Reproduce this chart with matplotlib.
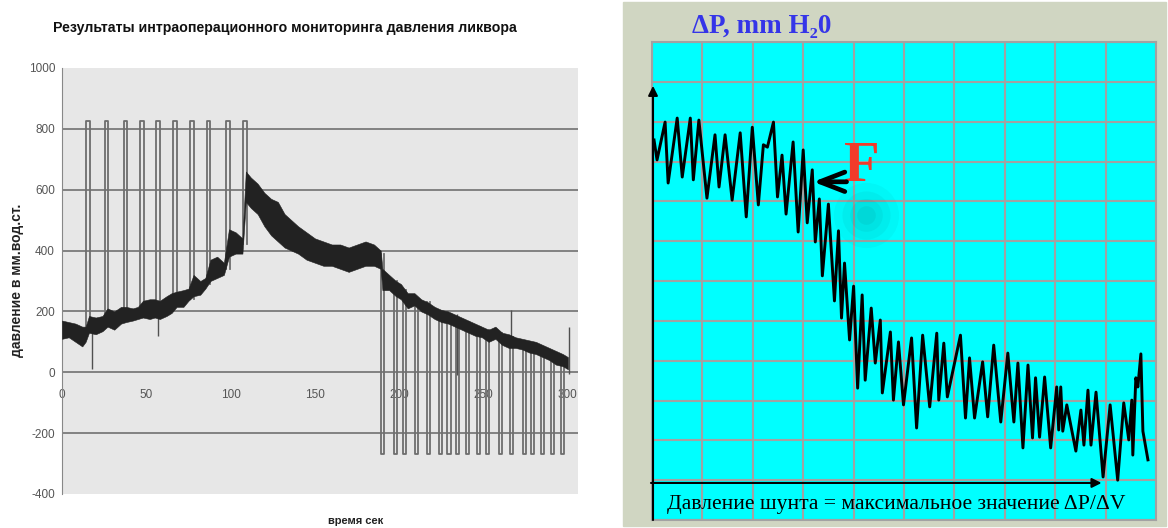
import numpy as np
import matplotlib.pyplot as plt
from matplotlib.patches import Rectangle

plt.rcParams["axes.unicode_minus"] = False

# ---------------- left panel: intraoperative CSF pressure recording ----------------
TITLE_L = "Результаты интраоперационного мониторинга давления ликвора"
XLABEL_L = "время сек"
YLABEL_L = "давление в мм.вод.ст."
x_ticks = [0, 50, 100, 150, 200, 250, 300]
y_ticks = [-400, -200, 0, 200, 400, 600, 800, 1000]
grid_levels = [-200, 0, 200, 400, 600, 800]

# noisy baseline, read as lower / upper envelope
band_t = [0, 4, 8, 12, 14, 16, 20, 24, 27, 31, 35, 38, 42, 45, 48, 52, 55, 58, 62, 65,
          68, 72, 75, 78, 82, 85, 88, 92, 96, 99, 103, 107, 109, 112, 116, 120, 124, 128,
          132, 136, 140, 145, 150, 155, 160, 165, 170, 175, 180, 185, 189, 190, 194, 198,
          201, 205, 209, 213, 217, 221, 225, 229, 233, 237, 241, 245, 249, 253, 257, 261,
          265, 269, 273, 277, 281, 285, 289, 293, 297, 300]
band_lo = [110, 115, 100, 85, 100, 130, 125, 135, 150, 140, 160, 165, 170, 175, 180, 175,
           180, 175, 185, 195, 215, 215, 235, 250, 255, 275, 300, 310, 320, 380, 390, 390,
           560, 540, 520, 480, 450, 430, 410, 400, 390, 370, 360, 350, 350, 340, 330, 340,
           350, 350, 340, 270, 270, 250, 240, 210, 220, 200, 190, 175, 165, 160, 150, 140,
           130, 120, 115, 100, 110, 90, 80, 80, 75, 65, 60, 50, 40, 25, 20, 10]
band_hi = [170, 165, 160, 150, 150, 185, 180, 185, 210, 200, 215, 215, 210, 215, 235, 240,
           240, 235, 250, 260, 265, 270, 275, 320, 300, 310, 370, 380, 360, 470, 460, 440,
           660, 640, 620, 590, 570, 560, 520, 500, 480, 460, 440, 430, 420, 420, 410, 420,
           430, 420, 400, 340, 320, 300, 290, 260, 260, 240, 230, 215, 205, 200, 190, 180,
           170, 160, 150, 140, 150, 130, 125, 115, 110, 105, 100, 90, 80, 70, 60, 50]

# infusion pulses (up) and withdrawal pulses (down)
up_pulse_t = [14.5, 25.5, 36.5, 46.5, 56, 66, 76, 86, 97.5, 107.5]
up_pulse_base = [140, 160, 180, 195, 215, 220, 240, 290, 340, 420]
up_pulse_top = 825
down_pulse_t = [189.4, 196.6, 202.2, 209.4, 216.5, 223.7, 228.6, 233.5, 239.8, 245.9,
                251.6, 259.2, 265.9, 273.1, 278.2, 283.9, 289.8, 295.7]
down_pulse_base = [390, 300, 270, 240, 230, 200, 190, 180, 165, 150, 140, 130, 115, 100,
                   90, 80, 65, 50]
down_pulse_bottom = -268

# isolated artefact spikes
spike_t = [18, 57, 234, 266, 300.5]
spike_from = [150, 220, 190, 110, -5]
spike_to = [10, 120, -10, 205, 150]

# ---------------- right panel: schematic dP trace ----------------
TITLE_R = "ΔP, mm H₂0"
NOTE_R = "Давление шунта = максимальное значение ΔP/ΔV"
MARK_R = "F"
trace_x = [0.04, 0.10, 0.26, 0.32, 0.50, 0.60, 0.76, 0.82, 0.93, 1.09, 1.25, 1.33, 1.45,
           1.59, 1.75, 1.87, 1.99, 2.11, 2.21, 2.29, 2.41, 2.49, 2.58, 2.66, 2.80, 2.90,
           3.00, 3.08, 3.18, 3.24, 3.32, 3.38, 3.50, 3.62, 3.70, 3.76, 3.82, 3.92, 4.00,
           4.08, 4.17, 4.23, 4.35, 4.43, 4.53, 4.57, 4.73, 4.79, 4.89, 4.99, 5.15, 5.25,
           5.37, 5.51, 5.65, 5.69, 5.79, 5.86, 6.12, 6.22, 6.30, 6.40, 6.56, 6.66, 6.78,
           6.92, 7.06, 7.18, 7.26, 7.36, 7.46, 7.55, 7.61, 7.69, 7.79, 7.91, 8.03, 8.07,
           8.11, 8.15, 8.23, 8.41, 8.51, 8.57, 8.65, 8.71, 8.81, 8.95, 9.09, 9.24, 9.36,
           9.46, 9.52, 9.54, 9.60, 9.64, 9.70, 9.74, 9.84]
trace_y = [9.54, 9.04, 9.99, 8.46, 10.09, 8.61, 10.09, 8.54, 10.04, 8.08, 9.67, 8.36, 9.67,
           8.03, 9.72, 7.61, 9.86, 7.91, 9.42, 9.36, 9.99, 8.11, 9.16, 7.68, 9.49, 7.23,
           9.29, 7.46, 8.79, 6.98, 8.06, 6.13, 7.93, 5.50, 7.26, 5.07, 6.45, 4.52, 5.87,
           3.31, 5.65, 3.51, 5.32, 3.94, 5.02, 3.19, 4.72, 3.01, 4.47, 2.89, 4.57, 2.31,
           4.64, 2.84, 4.69, 3.01, 4.44, 3.09, 4.64, 2.56, 4.07, 2.56, 3.97, 2.59, 4.39,
           2.46, 4.19, 2.46, 3.94, 1.81, 3.89, 2.06, 3.57, 2.08, 3.59, 1.81, 3.34, 2.26,
           3.34, 2.23, 2.89, 1.73, 2.76, 1.88, 3.26, 1.88, 3.21, 1.08, 2.89, 1.00, 2.94,
           2.01, 3.01, 1.63, 3.57, 3.34, 4.17, 2.23, 1.51]


W, H = 1168, 528
fig = plt.figure(figsize=(W / 100, H / 100), dpi=100, facecolor="white")


def fx(px):
    return px / W


def fy(py):
    return 1 - py / H


# ---- left chart ----
ax1 = fig.add_axes([fx(62), fy(494), fx(578 - 62), (494 - 68) / H], facecolor="#e7e7e7")
ax1.set_xlim(0, 306)
ax1.set_ylim(-400, 1000)
for lev in grid_levels:
    ax1.axhline(lev, color="#666666", lw=1.1, zorder=1)

ax1.fill_between(band_t, band_lo, band_hi, color="#222222", lw=0.4, zorder=3)

for t, b in zip(up_pulse_t, up_pulse_base):
    ax1.plot([t, t, t + 2, t + 2], [b, up_pulse_top, up_pulse_top, b],
             color="#6e6e6e", lw=1.3, zorder=2)
for t, b in zip(down_pulse_t, down_pulse_base):
    ax1.plot([t, t, t + 1.8, t + 1.8], [b, down_pulse_bottom, down_pulse_bottom, b],
             color="#6e6e6e", lw=1.3, zorder=2)
ax1.vlines(spike_t, spike_from, spike_to, color="#505050", lw=1.0, zorder=2)

for s in ["top", "right"]:
    ax1.spines[s].set_visible(False)
ax1.spines["left"].set_color("#888888")
ax1.spines["bottom"].set_position(("data", 0))
ax1.spines["bottom"].set_visible(False)
ax1.set_xticks(x_ticks)
ax1.set_yticks(y_ticks)
ax1.tick_params(axis="both", length=0, labelsize=8.5, labelcolor="#555555")
ax1.tick_params(axis="x", pad=12)
ax1.tick_params(axis="y", pad=5)
for lab in ax1.get_xticklabels() + ax1.get_yticklabels():
    lab.set_family("Liberation Sans")

fig.text(fx(285), fy(28), TITLE_L, ha="center", va="center", fontsize=10.2,
         fontweight="bold", family="Liberation Sans", color="#111111")
fig.text(fx(356), fy(521), XLABEL_L, ha="center", va="center", fontsize=8,
         fontweight="bold", family="Liberation Sans", color="#222222")
fig.text(fx(17), fy(280), YLABEL_L, ha="center", va="center", rotation=90, fontsize=10,
         fontweight="bold", family="Liberation Sans", color="#222222")

# ---- right chart ----
fig.patches.append(Rectangle((fx(623), fy(526)), fx(1166 - 623), (526 - 2) / H,
                             transform=fig.transFigure, color="#d0d6c2", zorder=-5))
ax2 = fig.add_axes([fx(652), fy(520), fx(1156 - 652), (520 - 42) / H], facecolor="#00ffff")
ax2.set_xlim(0, 10)
ax2.set_ylim(0, 12)
ax2.set_xticks(range(11))
ax2.set_yticks(range(13))
ax2.grid(True, color="#a2a2a2", lw=1.5)
ax2.tick_params(length=0, labelbottom=False, labelleft=False)
for s in ax2.spines.values():
    s.set_color("#a2a2a2")
    s.set_linewidth(1.5)

# soft shadow next to the marker
for size, alpha in [(2200, 0.05), (1200, 0.07), (550, 0.08), (180, 0.09)]:
    ax2.scatter([4.25], [7.65], s=size, color="#007070", alpha=alpha, lw=0, zorder=2)

ax2.plot(trace_x, trace_y, color="black", lw=2.1, solid_joinstyle="round", zorder=4)

ax2.annotate("", xy=(0.02, 10.9), xytext=(0.02, 0.0),
             arrowprops=dict(arrowstyle="-|>", color="black", lw=1.5, mutation_scale=14,
                             shrinkA=0, shrinkB=0))
ax2.annotate("", xy=(8.92, 0.93), xytext=(-0.02, 0.93),
             arrowprops=dict(arrowstyle="-|>", color="black", lw=1.5, mutation_scale=14,
                             shrinkA=0, shrinkB=0))
ax2.annotate("", xy=(3.2, 8.49), xytext=(3.86, 8.49),
             arrowprops=dict(arrowstyle="->, head_length=0.9, head_width=0.35",
                             color="black", lw=3.4, mutation_scale=20,
                             shrinkA=0, shrinkB=0), zorder=5)
ax2.text(4.16, 8.86, MARK_R, ha="center", va="center", fontsize=42, color="#f23b2a",
         fontweight="bold", family="Liberation Serif")
ax2.text(4.85, 0.38, NOTE_R, ha="center", va="center", fontsize=15.6, color="black",
         family="Liberation Serif")

fig.text(fx(692), fy(33), TITLE_R, ha="left", va="baseline", fontsize=19.5, color="#3535e8",
         fontweight="bold", family=["Liberation Serif", "DejaVu Serif"])

fig.savefig("out.png", dpi=100, facecolor=fig.get_facecolor())
